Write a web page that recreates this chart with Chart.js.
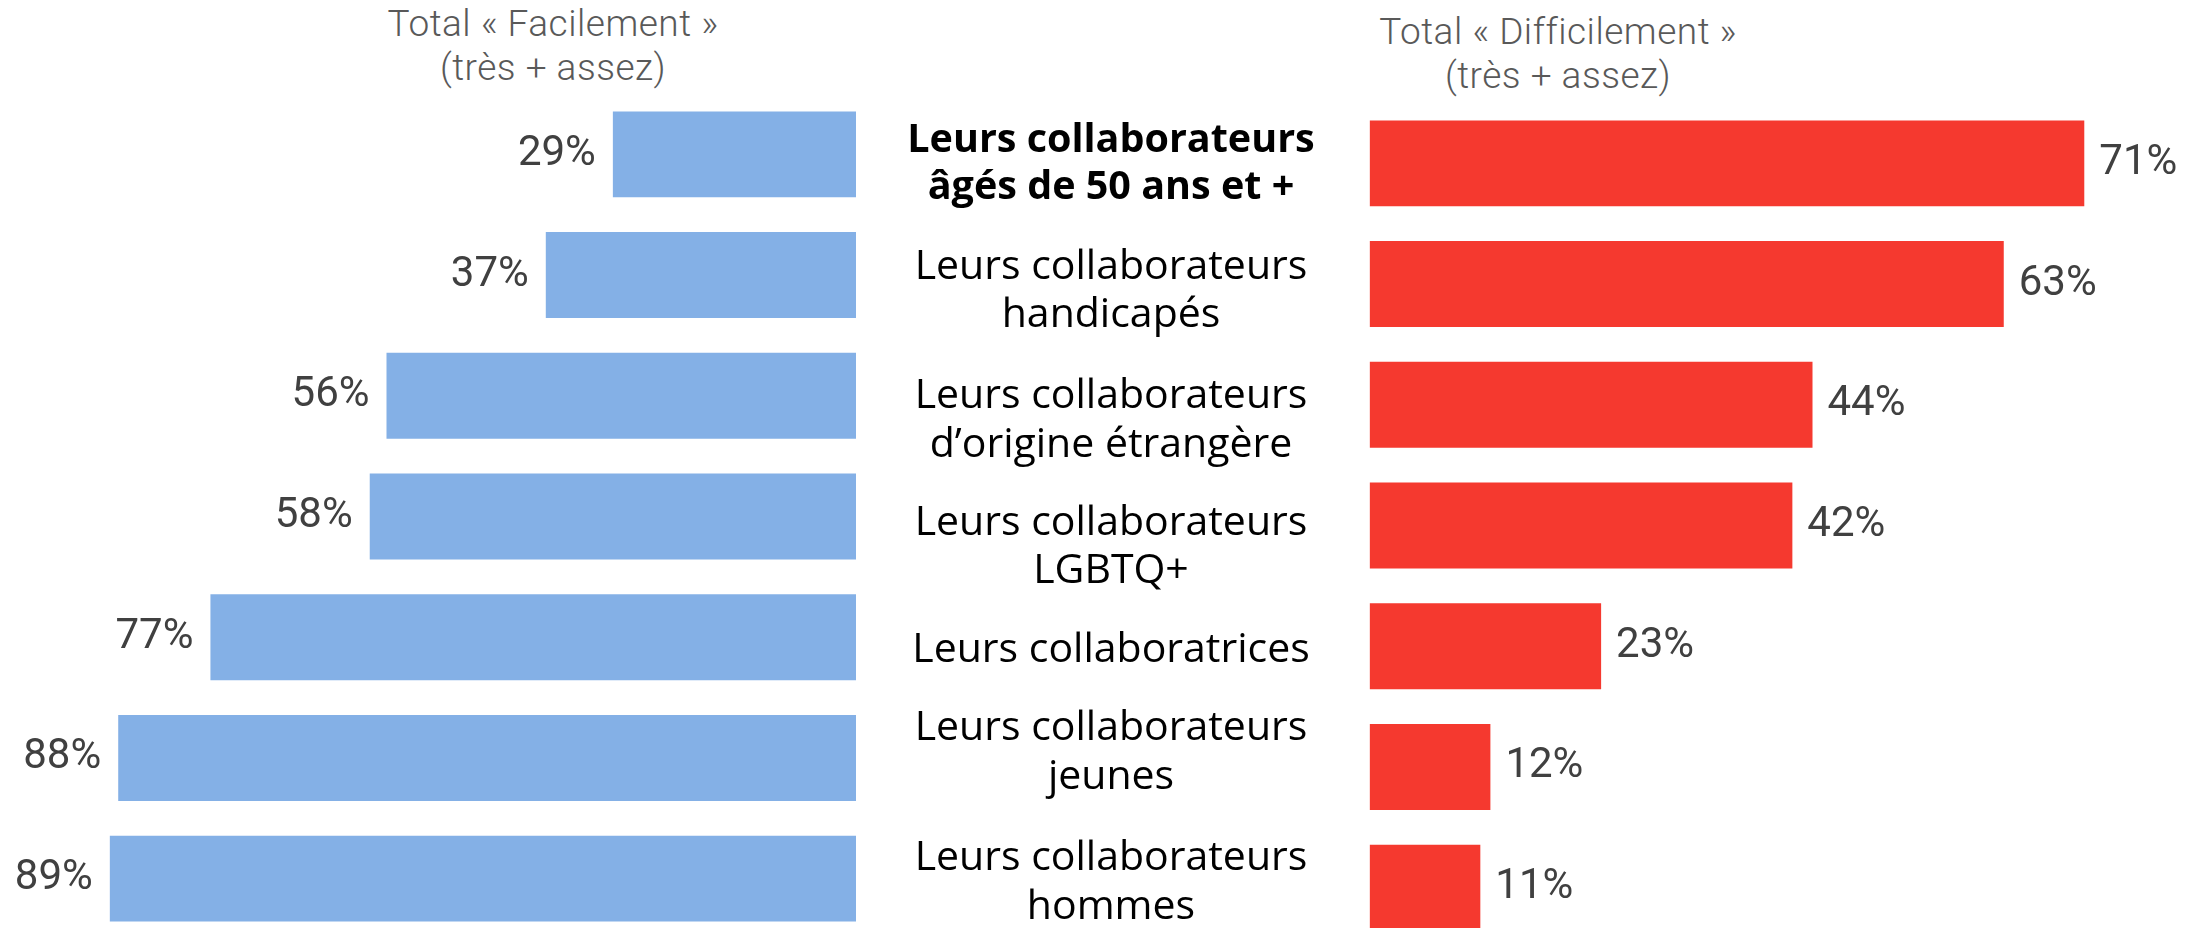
<!DOCTYPE html>
<html>
<head>
<meta charset="utf-8">
<script src="https://cdn.jsdelivr.net/npm/chart.js@4.4.1/dist/chart.umd.min.js"></script>
<style>
  html, body { margin: 0; padding: 0; background: #fff; }
  #wrap { position: relative; width: 2194px; height: 928px; overflow: hidden; }
  canvas { position: absolute; }
  #left { left: 0; top: 94px; }
  #right { left: 856px; top: 103px; }
  .head { position: absolute; width: 600px; text-align: center; font-family: Roboto, sans-serif; font-weight: 300;
          font-size: 37px; letter-spacing: 0.5px; line-height: 44px; color: #595959; }
</style>
</head>
<body>
<div id="wrap">
  <div class="head" style="left:253px; top:2px">Total « Facilement »<br>(très + assez)</div>
  <div class="head" style="left:1258px; top:10px">Total « Difficilement »<br>(très + assez)</div>
  <canvas id="left" width="856" height="845"></canvas>
  <canvas id="right" width="1338" height="845"></canvas>
</div>
<script>
var categories = [
  ["Leurs collaborateurs", "âgés de 50 ans et +"],
  ["Leurs collaborateurs", "handicapés"],
  ["Leurs collaborateurs", "d’origine étrangère"],
  ["Leurs collaborateurs", "LGBTQ+"],
  "Leurs collaboratrices",
  ["Leurs collaborateurs", "jeunes"],
  ["Leurs collaborateurs", "hommes"]
];
var facilement = [29, 37, 56, 58, 77, 88, 89];
var difficilement = [71, 63, 44, 42, 23, 12, 11];

var blue = "#84B0E6";
var red = "#F5392F";
var labelFamily = '"Open Sans", sans-serif';

function labelFont(i) {
  return i === 0 ? { size: 39.5, weight: "bold" } : { size: 41, weight: "normal" };
}

// the category texts in the original sit a little off their bars
var labelNudge = [1, 7, 16, 22, 4, -14, -5];
var nudgeLabels = {
  id: "nudgeLabels",
  beforeDraw: function(chart) {
    chart.scales.y.getLabelItems().forEach(function(item, i) {
      if (item._nudged) return;
      item.options.translation[1] += labelNudge[i] || 0;
      item._nudged = true;
    });
  }
};

// % labels at the end of each bar
var valueLabels = {
  id: "valueLabels",
  afterDatasetsDraw: function(chart, args, opts) {
    var ctx = chart.ctx;
    var meta = chart.getDatasetMeta(0);
    var vals = chart.data.datasets[0].data;
    ctx.save();
    ctx.font = "400 42px Roboto, sans-serif";
    ctx.fillStyle = "#404040";
    ctx.textBaseline = "middle";
    ctx.textAlign = opts.side == "left" ? "right" : "left";
    meta.data.forEach(function(bar, i) {
      var x = opts.side == "left" ? bar.x - 17 : bar.x + 15;
      ctx.fillText(vals[i] + "%", x, bar.y);
    });
    ctx.restore();
  }
};

// widest category line, to center the labels between the two bar groups
var mctx = document.createElement("canvas").getContext("2d");
var widest = 0;
categories.forEach(function(lab, i) {
  var f = labelFont(i);
  mctx.font = f.weight + " " + f.size + "px " + labelFamily;
  [].concat(lab).forEach(function(s) {
    widest = Math.max(widest, mctx.measureText(s).width);
  });
});
var axisWidth = 513.6;
var labelCenter = 1111 - 856;
var labelPad = axisWidth - labelCenter - widest / 2;

new Chart(document.getElementById("left"), {
  type: "bar",
  data: {
    labels: categories,
    datasets: [{ data: facilement, backgroundColor: blue, categoryPercentage: 1, barPercentage: 0.712 }]
  },
  options: {
    indexAxis: "y",
    responsive: false,
    animation: false,
    layout: { padding: 0 },
    scales: {
      x: { display: false, reverse: true, min: 0, max: 102.1 },
      y: { display: false }
    },
    plugins: {
      legend: { display: false },
      tooltip: { enabled: false },
      valueLabels: { side: "left" }
    }
  },
  plugins: [valueLabels]
});

new Chart(document.getElementById("right"), {
  type: "bar",
  data: {
    labels: categories,
    datasets: [{ data: difficilement, backgroundColor: red, categoryPercentage: 1, barPercentage: 0.712 }]
  },
  options: {
    indexAxis: "y",
    responsive: false,
    animation: false,
    layout: { padding: 0 },
    scales: {
      x: { display: false, min: 0, max: 81.9 },
      y: {
        position: "left",
        grid: { display: false, drawTicks: false },
        border: { display: false },
        ticks: {
          autoSkip: false,
          color: "#000",
          padding: labelPad,
          crossAlign: "center",
          font: function(c) {
            var f = labelFont(c.index);
            return { family: labelFamily, size: f.size, weight: f.weight, lineHeight: 1.18 };
          }
        },
        afterFit: function(scale) {
          scale.width = axisWidth;
          scale.paddingTop = 0;
          scale.paddingBottom = 0;
        }
      }
    },
    plugins: {
      legend: { display: false },
      tooltip: { enabled: false },
      valueLabels: { side: "right" }
    }
  },
  plugins: [valueLabels, nudgeLabels]
});
</script>
</body>
</html>
